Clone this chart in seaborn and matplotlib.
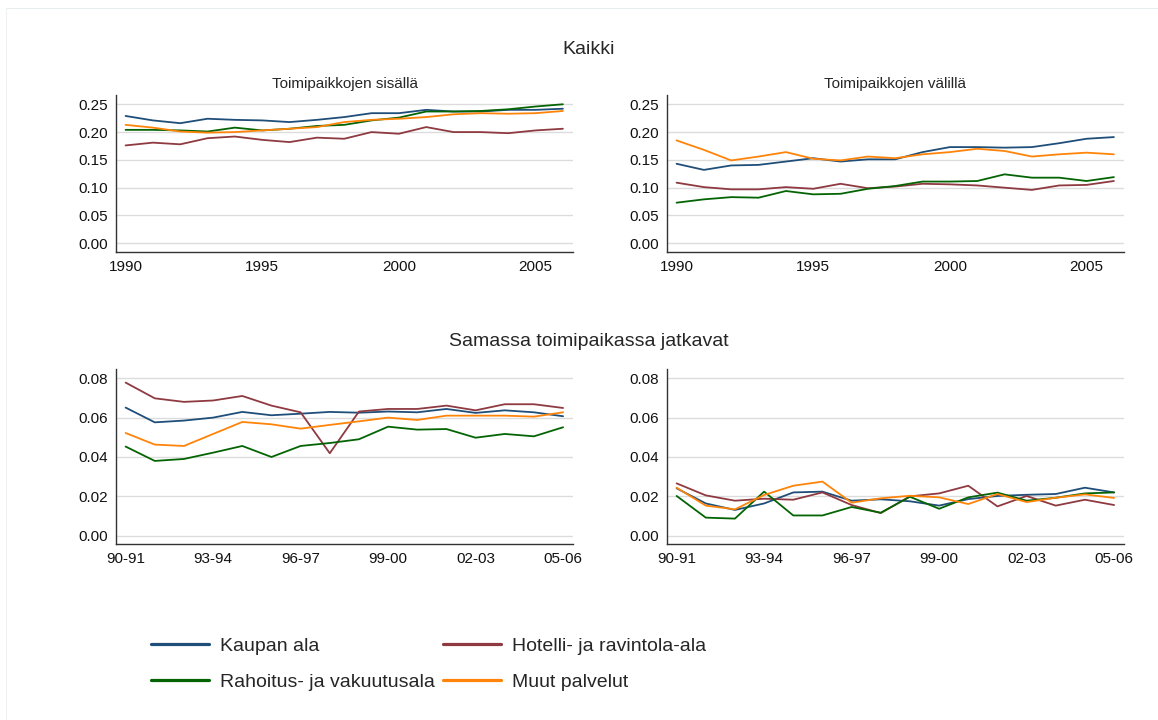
import numpy as np
import pandas as pd
import matplotlib
matplotlib.use('Agg')
from matplotlib import pyplot as plt
import seaborn as sns

years = list(range(1990, 2007))
periods = ['90-91', '91-92', '92-93', '93-94', '94-95', '95-96', '96-97', '97-98',
           '98-99', '99-00', '00-01', '01-02', '02-03', '03-04', '04-05', '05-06']
period_ticks = ['90-91', '93-94', '96-97', '99-00', '02-03', '05-06']

series = ['Kaupan ala', 'Hotelli- ja ravintola-ala',
          'Rahoitus- ja vakuutusala', 'Muut palvelut']
colors = {'Kaupan ala': '#1f4e79',
          'Hotelli- ja ravintola-ala': '#8e3a40',
          'Rahoitus- ja vakuutusala': '#046404',
          'Muut palvelut': '#ff8409'}

# Kaikki - Toimipaikkojen sisalla
sis_kauppa = [0.229, 0.221, 0.216, 0.224, 0.222, 0.221, 0.218, 0.222, 0.227,
              0.234, 0.234, 0.240, 0.237, 0.237, 0.240, 0.240, 0.242]
sis_hotelli = [0.176, 0.181, 0.178, 0.189, 0.192, 0.186, 0.182, 0.190, 0.188,
               0.200, 0.197, 0.209, 0.200, 0.200, 0.198, 0.203, 0.206]
sis_rahoitus = [0.204, 0.204, 0.203, 0.201, 0.208, 0.203, 0.206, 0.211, 0.213,
                0.221, 0.226, 0.237, 0.237, 0.238, 0.241, 0.246, 0.250]
sis_muut = [0.213, 0.208, 0.201, 0.199, 0.200, 0.203, 0.206, 0.209, 0.218,
            0.222, 0.224, 0.227, 0.232, 0.234, 0.233, 0.234, 0.238]

# Kaikki - Toimipaikkojen valilla
val_kauppa = [0.143, 0.132, 0.140, 0.141, 0.147, 0.153, 0.147, 0.151, 0.151,
              0.164, 0.173, 0.173, 0.172, 0.173, 0.180, 0.188, 0.191]
val_hotelli = [0.109, 0.101, 0.097, 0.097, 0.101, 0.098, 0.107, 0.099, 0.102,
               0.107, 0.106, 0.104, 0.100, 0.096, 0.104, 0.105, 0.112]
val_rahoitus = [0.073, 0.079, 0.083, 0.082, 0.094, 0.088, 0.089, 0.098, 0.103,
                0.111, 0.111, 0.112, 0.124, 0.118, 0.118, 0.112, 0.119]
val_muut = [0.185, 0.168, 0.149, 0.156, 0.164, 0.152, 0.149, 0.156, 0.153,
            0.160, 0.164, 0.170, 0.166, 0.156, 0.160, 0.163, 0.160]

# Samassa toimipaikassa jatkavat - vasen
jat1_kauppa = [0.0651, 0.0576, 0.0585, 0.0600, 0.0629, 0.0612, 0.0620, 0.0629,
               0.0625, 0.0631, 0.0627, 0.0644, 0.0624, 0.0637, 0.0627, 0.0607]
jat1_hotelli = [0.0778, 0.0698, 0.0680, 0.0687, 0.0710, 0.0661, 0.0627, 0.0419,
                0.0631, 0.0644, 0.0644, 0.0661, 0.0637, 0.0668, 0.0668, 0.0649]
jat1_rahoitus = [0.0453, 0.0380, 0.0390, 0.0422, 0.0456, 0.0400, 0.0456, 0.0471,
                 0.0490, 0.0554, 0.0539, 0.0542, 0.0498, 0.0517, 0.0505, 0.0551]
jat1_muut = [0.0522, 0.0463, 0.0456, 0.0517, 0.0578, 0.0566, 0.0544, 0.0563,
             0.0581, 0.0600, 0.0588, 0.0610, 0.0610, 0.0610, 0.0605, 0.0627]

# Samassa toimipaikassa jatkavat - oikea
jat2_kauppa = [0.0241, 0.0164, 0.0131, 0.0164, 0.0220, 0.0224, 0.0178, 0.0185,
               0.0175, 0.0153, 0.0186, 0.0202, 0.0208, 0.0212, 0.0244, 0.0220]
jat2_hotelli = [0.0266, 0.0205, 0.0178, 0.0188, 0.0183, 0.0220, 0.0156, 0.0115,
                0.0200, 0.0215, 0.0254, 0.0149, 0.0202, 0.0153, 0.0183, 0.0156]
jat2_rahoitus = [0.0202, 0.0092, 0.0087, 0.0224, 0.0103, 0.0103, 0.0146, 0.0117,
                 0.0198, 0.0137, 0.0195, 0.0219, 0.0178, 0.0193, 0.0215, 0.0220]
jat2_muut = [0.0244, 0.0153, 0.0134, 0.0207, 0.0254, 0.0275, 0.0168, 0.0190,
             0.0203, 0.0195, 0.0161, 0.0212, 0.0171, 0.0193, 0.0210, 0.0192]


def long_df(x, cols):
    frames = []
    for name, vals in zip(series, cols):
        frames.append(pd.DataFrame({'x': x, 'value': vals, 'ala': name}))
    return pd.concat(frames, ignore_index=True)


sns.set_style('white')
plt.rcParams['font.family'] = ['Liberation Sans', 'DejaVu Sans']
plt.rcParams['axes.edgecolor'] = '#333333'

fig = plt.figure(figsize=(11.58, 7.2), dpi=100)

# faint outer frame
fig.add_artist(plt.Line2D([6 / 1158, 1.0], [1 - 8 / 720, 1 - 8 / 720],
                          color='#e8eef0', lw=0.8))
fig.add_artist(plt.Line2D([6 / 1158, 6 / 1158], [0, 1 - 8 / 720],
                          color='#eef2f3', lw=0.8))

w = 457 / 1158
ax_tl = fig.add_axes([116 / 1158, 1 - 252 / 720, w, 157 / 720])
ax_tr = fig.add_axes([667 / 1158, 1 - 252 / 720, w, 157 / 720])
ax_bl = fig.add_axes([116 / 1158, 1 - 544 / 720, w, 175 / 720])
ax_br = fig.add_axes([667 / 1158, 1 - 544 / 720, w, 175 / 720])

panels = [
    (ax_tl, long_df(years, [sis_kauppa, sis_hotelli, sis_rahoitus, sis_muut]), 'Toimipaikkojen sisällä'),
    (ax_tr, long_df(years, [val_kauppa, val_hotelli, val_rahoitus, val_muut]), 'Toimipaikkojen välillä'),
    (ax_bl, long_df(list(range(len(periods))), [jat1_kauppa, jat1_hotelli, jat1_rahoitus, jat1_muut]), None),
    (ax_br, long_df(list(range(len(periods))), [jat2_kauppa, jat2_hotelli, jat2_rahoitus, jat2_muut]), None),
]

for ax, df, title in panels:
    sns.lineplot(data=df, x='x', y='value', hue='ala', hue_order=series,
                 palette=colors, lw=1.3, ax=ax, legend=False)
    ax.set_xlabel('')
    ax.set_ylabel('')
    sns.despine(ax=ax)
    ax.spines['left'].set_linewidth(1.0)
    ax.spines['bottom'].set_linewidth(1.0)
    ax.grid(axis='y', color='#dcdcdc', lw=1.0)
    ax.set_axisbelow(True)
    ax.tick_params(axis='both', direction='out', length=4, width=0.8,
                   colors='#333333', labelcolor='#111111', labelsize=11, pad=2)
    if title:
        ax.set_title(title, fontsize=11, pad=5)

for ax in (ax_tl, ax_tr):
    ax.set_xlim(1989.65, 2006.37)
    ax.set_ylim(-0.0157, 0.2667)
    ax.set_xticks([1990, 1995, 2000, 2005])
    ax.set_yticks([0.0, 0.05, 0.10, 0.15, 0.20, 0.25])
    ax.set_yticklabels(['%.2f' % v for v in ax.get_yticks()])

for ax in (ax_bl, ax_br):
    ax.set_xlim(-0.33, 15.34)
    ax.set_ylim(-0.0042, 0.0847)
    ax.set_xticks([periods.index(p) for p in period_ticks])
    ax.set_xticklabels(period_ticks)
    ax.set_yticks([0.0, 0.02, 0.04, 0.06, 0.08])
    ax.set_yticklabels(['%.2f' % v for v in ax.get_yticks()])

fig.text(589 / 1158, 1 - 49 / 720, 'Kaikki', ha='center', va='center', fontsize=14)
fig.text(589 / 1158, 1 - 342 / 720, 'Samassa toimipaikassa jatkavat',
         ha='center', va='center', fontsize=14)

order = ['Kaupan ala', 'Rahoitus- ja vakuutusala',
         'Hotelli- ja ravintola-ala', 'Muut palvelut']
handles = [plt.Line2D([], [], color=colors[s], lw=2.3) for s in order]
fig.legend(handles, order, loc='upper left', ncol=2,
           bbox_to_anchor=(133 / 1158, 1 - 620 / 720), frameon=False,
           prop={'size': 14},
           handlelength=3.0, handletextpad=0.55, columnspacing=0.45,
           labelspacing=0.95)

plt.savefig('out.png', dpi=100)
